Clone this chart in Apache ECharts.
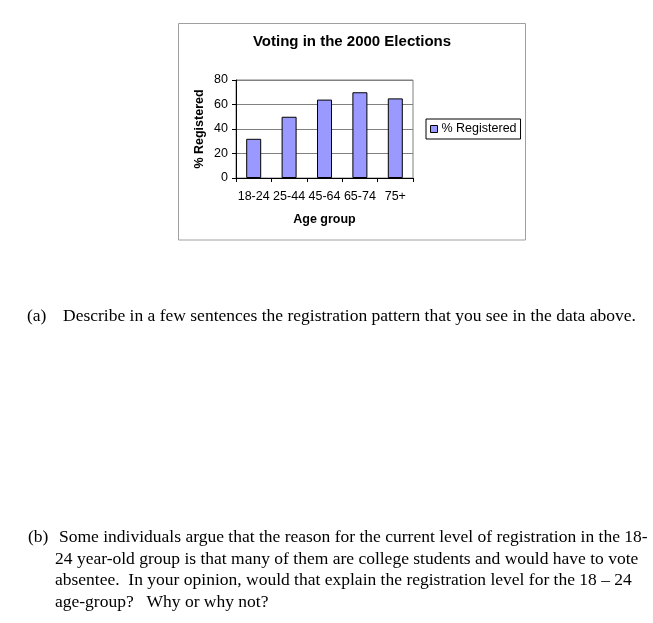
<!DOCTYPE html>
<html>
<head>
<meta charset="utf-8">
<script src="https://cdn.jsdelivr.net/npm/echarts@6/dist/echarts.min.js"></script>
<style>
  html, body { margin: 0; padding: 0; background: #fff; }
  #chart { position: absolute; left: 0; top: 0; width: 653px; height: 623px; }
  .line {
    position: absolute;
    font-family: 'Liberation Serif', 'Times New Roman', serif;
    font-size: 17.5px;
    line-height: 17.5px;
    color: #000;
    white-space: pre;
  }
</style>
</head>
<body>
<div id="chart"></div>
<div class="line" style="left:27px;top:307px">(a)</div>
<div class="line" style="left:63px;top:307px">Describe in a few sentences the registration pattern that you see in the data above.</div>
<div class="line" style="left:28px;top:528px">(b)</div>
<div class="line" style="left:59px;top:528px">Some individuals argue that the reason for the current level of registration in the 18-</div>
<div class="line" style="left:55px;top:550px">24 year-old group is that many of them are college students and would have to vote</div>
<div class="line" style="left:55px;top:571px">absentee.  In your opinion, would that explain the registration level for the 18 – 24</div>
<div class="line" style="left:55px;top:593px">age-group?   Why or why not?</div>
<script>
const categories = ['18-24', '25-44', '45-64', '65-74', '75+']
const registered = [32, 50, 64, 70, 65]
const yTicks = { min: 0, max: 80, interval: 20 }

const font = 'Arial, "Liberation Sans", sans-serif'

const chart = echarts.init(document.getElementById('chart'))

const option = {
    animation: false,
    backgroundColor: '#fff',
    textStyle: { fontFamily: font, color: '#000' },
    title: {
        text: 'Voting in the 2000 Elections',
        left: 352,
        top: 34,
        textAlign: 'center',
        padding: 0,
        textStyle: { fontSize: 15, fontWeight: 'bold', color: '#000', fontFamily: font }
    },
    graphic: [{
        type: 'rect',
        shape: { x: 178.5, y: 23.5, width: 347, height: 216.5 },
        style: { fill: 'none', stroke: '#a0a0a0', lineWidth: 1 },
        silent: true
    }],
    grid: {
        left: 236,
        top: 80,
        width: 177,
        height: 98,
        show: true,
        borderColor: '#808080',
        borderWidth: 1,
        containLabel: false
    },
    legend: {
        left: 426,
        top: 119,
        orient: 'vertical',
        padding: [3.5, 4],
        borderColor: '#000',
        borderWidth: 1,
        itemWidth: 7,
        itemHeight: 7,
        icon: 'rect',
        itemStyle: { borderColor: '#000', borderWidth: 1 },
        textStyle: { fontSize: 12.5, color: '#000', fontFamily: font, padding: [0, 0, 0, -1] }
    },
    xAxis: {
        type: 'category',
        data: categories,
        name: 'Age group',
        nameLocation: 'middle',
        nameGap: 35,
        nameTextStyle: { fontSize: 12.5, fontWeight: 'bold', color: '#000' },
        axisLine: { lineStyle: { color: '#000', width: 1 } },
        axisTick: { show: true, length: 4, alignWithLabel: false, lineStyle: { color: '#000' } },
        axisLabel: { fontSize: 12.5, color: '#000', margin: 12, interval: 0, hideOverlap: false },
        splitLine: { show: false }
    },
    yAxis: {
        type: 'value',
        min: yTicks.min,
        max: yTicks.max,
        interval: yTicks.interval,
        name: '% Registered',
        nameLocation: 'middle',
        nameGap: 30,
        nameRotate: 90,
        nameTextStyle: { fontSize: 12.5, fontWeight: 'bold', color: '#000' },
        axisLine: { show: true, lineStyle: { color: '#000', width: 1 } },
        axisTick: { show: true, length: 4, lineStyle: { color: '#000' } },
        axisLabel: { fontSize: 12.5, color: '#000', margin: 8 },
        splitLine: { show: true, lineStyle: { color: '#808080', width: 1 } }
    },
    series: [{
        name: '% Registered',
        type: 'bar',
        data: registered,
        barWidth: 15,
        itemStyle: { color: '#9999ff', borderColor: '#000', borderWidth: 1 }
    }]
}

chart.setOption(option)
</script>
</body>
</html>
